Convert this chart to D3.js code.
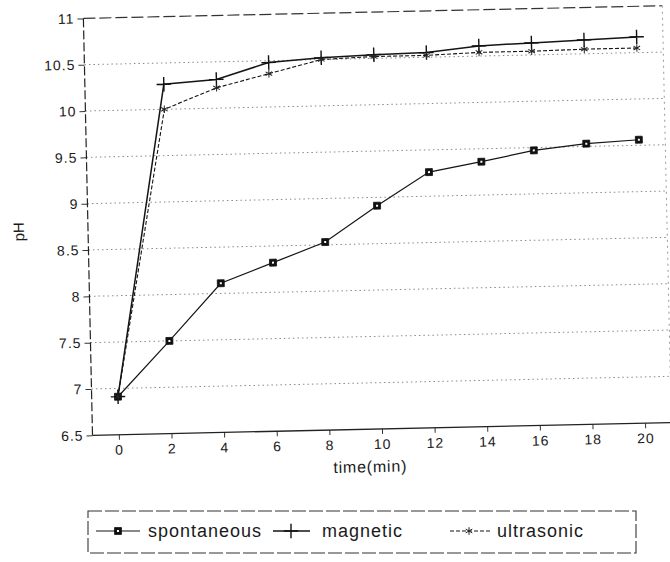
<!DOCTYPE html>
<html>
<head>
<meta charset="utf-8">
<script src="https://cdn.jsdelivr.net/npm/d3@7"></script>
<style>
  html, body { margin: 0; padding: 0; background: #fff; }
  svg text { font-family: "Liberation Sans", Arial, sans-serif; fill: #1a1a1a; }
</style>
</head>
<body>
<svg id="chart" width="670" height="562"></svg>
<script>
// ---- Data ----
const times = [0, 2, 4, 6, 8, 10, 12, 14, 16, 18, 20];
const spontaneous = [6.91, 7.5, 8.11, 8.32, 8.53, 8.91, 9.26, 9.36, 9.47, 9.53, 9.56];
const magnetic = [6.91, 10.27, 10.31, 10.48, 10.52, 10.54, 10.55, 10.61, 10.63, 10.65, 10.67];
const ultrasonic = [6.91, 10.0, 10.22, 10.36, 10.5, 10.52, 10.52, 10.54, 10.54, 10.55, 10.55];
const seriesNames = ['spontaneous', 'magnetic', 'ultrasonic'];
const yTicks = [6.5, 7, 7.5, 8, 8.5, 9, 9.5, 10, 10.5, 11];
const xTicks = [0, 2, 4, 6, 8, 10, 12, 14, 16, 18, 20];

// ---- Layout ----
const svg = d3.select('#chart');
const plot = {left: 88, right: 667, top: 12, bottom: 429};

// scan is slightly tilted, keep the chart body tilted the same way
const g = svg.append('g').attr('transform', 'rotate(-1.25, 378, 226)');

const x = d3.scaleLinear().domain([-1, 21]).range([plot.left, plot.right]);
const y = d3.scaleLinear().domain([6.5, 11]).range([plot.bottom, plot.top]);

// ---- Gridlines ----
g.append('g').selectAll('line.grid')
  .data(yTicks.filter(v => v > 6.5 && v < 11))
  .join('line')
  .attr('class', 'grid')
  .attr('x1', plot.left).attr('x2', plot.right)
  .attr('y1', d => y(d)).attr('y2', d => y(d))
  .attr('stroke', '#8a8a8a')
  .attr('stroke-width', 1)
  .attr('stroke-dasharray', '1.5,3');

// top frame (11) and right frame
g.append('line')
  .attr('x1', plot.left).attr('x2', plot.right)
  .attr('y1', y(11)).attr('y2', y(11))
  .attr('stroke', '#333').attr('stroke-width', 1.2)
  .attr('stroke-dasharray', '12,4');
g.append('line')
  .attr('x1', plot.right).attr('x2', plot.right)
  .attr('y1', y(11)).attr('y2', y(6.5))
  .attr('stroke', '#999').attr('stroke-dasharray', '2,4');

// ---- Axes ----
const xAxis = d3.axisBottom(x).tickValues(xTicks).tickSize(5).tickPadding(5).tickFormat(d => d);
const yAxis = d3.axisLeft(y).tickValues(yTicks).tickSize(6).tickPadding(3).tickFormat(d => d);

const gx = g.append('g').attr('transform', `translate(0,${plot.bottom})`).call(xAxis);
gx.select('.domain').remove();
gx.append('line')
  .attr('x1', plot.left).attr('x2', plot.right + 3)
  .attr('stroke', '#222').attr('stroke-width', 1.3);

const gy = g.append('g').attr('transform', `translate(${plot.left},0)`).call(yAxis);
gy.select('.domain').remove();
gy.append('line')
  .attr('y1', plot.top).attr('y2', plot.bottom)
  .attr('stroke', '#222').attr('stroke-width', 1.2)
  .attr('stroke-dasharray', '9,3');

[gx, gy].forEach(a => {
  a.selectAll('.tick line').attr('stroke', '#333');
  a.selectAll('.tick text')
    .attr('font-size', 14)
    .attr('letter-spacing', 1)
    .attr('fill', '#1a1a1a');
});

g.append('text')
  .attr('x', 365).attr('y', 472)
  .attr('text-anchor', 'middle')
  .attr('font-size', 16)
  .attr('letter-spacing', 0.8)
  .text('time(min)');

g.append('text')
  .attr('transform', 'translate(24,224) rotate(-90)')
  .attr('text-anchor', 'middle')
  .attr('font-size', 15)
  .text('pH');

// ---- Series ----
const series = [
  {name: seriesNames[0], values: spontaneous, dash: null, width: 1.2, symbol: 'square'},
  {name: seriesNames[1], values: magnetic, dash: null, width: 1.5, symbol: 'plus'},
  {name: seriesNames[2], values: ultrasonic, dash: '4,2', width: 1.1, symbol: 'asterisk'}
];

const line = d3.line()
  .x((d, i) => x(times[i]))
  .y(d => y(d));

function drawMarker(sel, type) {
  if (type === 'square') {
    sel.append('path').attr('d', d3.symbol(d3.symbolSquare, 48)())
      .attr('fill', '#111').attr('stroke', '#111').attr('stroke-width', 0.8);
    sel.append('path').attr('d', d3.symbol(d3.symbolSquare, 4)())
      .attr('fill', '#fff');
  } else if (type === 'plus') {
    sel.append('path').attr('d', d3.symbol(d3.symbolPlus, 70)())
      .attr('fill', 'none').attr('stroke', '#111').attr('stroke-width', 1.4);
  } else {
    sel.append('path').attr('d', d3.symbol(d3.symbolAsterisk, 40)())
      .attr('fill', 'none').attr('stroke', '#222').attr('stroke-width', 1);
  }
}

series.forEach(s => {
  g.append('path')
    .datum(s.values)
    .attr('d', line)
    .attr('fill', 'none')
    .attr('stroke', '#151515')
    .attr('stroke-width', s.width)
    .attr('stroke-dasharray', s.dash);

  g.append('g').selectAll('g.pt')
    .data(s.values)
    .join('g')
    .attr('class', 'pt')
    .attr('transform', (d, i) => `translate(${x(times[i])},${y(d)})`)
    .each(function() { drawMarker(d3.select(this), s.symbol); });
});

// ---- Legend (not tilted in the scan) ----
const legend = svg.append('g');
legend.append('rect')
  .attr('x', 88).attr('y', 511).attr('width', 548).attr('height', 42)
  .attr('fill', 'none').attr('stroke', '#333').attr('stroke-width', 1.1)
  .attr('stroke-dasharray', '14,3');

const legendPos = [
  {sx1: 96, sx2: 140, mx: 118, tx: 148},
  {sx1: 273, sx2: 310, mx: 291, tx: 322},
  {sx1: 450, sx2: 490, mx: 469, tx: 497}
];
const legendY = 531;

series.forEach((s, i) => {
  const p = legendPos[i];
  legend.append('line')
    .attr('x1', p.sx1).attr('x2', p.sx2)
    .attr('y1', legendY).attr('y2', legendY)
    .attr('stroke', '#151515').attr('stroke-width', s.width)
    .attr('stroke-dasharray', s.dash);
  const m = legend.append('g').attr('transform', `translate(${p.mx},${legendY})`);
  drawMarker(m, s.symbol);
  legend.append('text')
    .attr('x', p.tx).attr('y', legendY + 6)
    .attr('font-size', 18)
    .attr('letter-spacing', 1)
    .text(s.name);
});
</script>
</body>
</html>
